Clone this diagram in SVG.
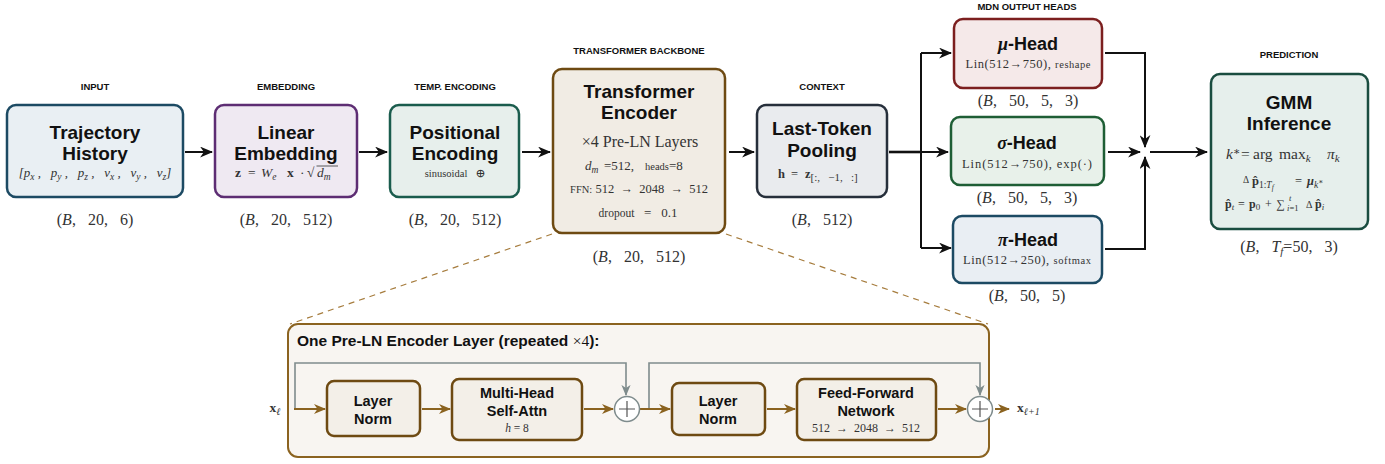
<svg xmlns="http://www.w3.org/2000/svg" width="1385" height="464" viewBox="0 0 1385 464">
<style>
.sec{font-family:"Liberation Sans",Arial,sans-serif;font-weight:bold;font-size:9.5px;fill:#111;text-anchor:middle}
.t{font-family:"Liberation Sans",Arial,sans-serif;font-weight:bold;font-size:19px;fill:#111;text-anchor:middle}
.th{font-family:"Liberation Sans",Arial,sans-serif;font-weight:bold;font-size:18px;fill:#111;text-anchor:middle}
.ti{font-family:"Liberation Sans",Arial,sans-serif;font-weight:bold;font-size:14.5px;fill:#111;text-anchor:middle}
.m{font-family:"Liberation Serif","DejaVu Serif",serif;fill:#333;text-anchor:middle}
.ms{font-family:"Liberation Serif","DejaVu Serif",serif;fill:#333;text-anchor:start}
.shape{font-family:"Liberation Serif","DejaVu Serif",serif;font-size:16px;fill:#333;text-anchor:middle}
.i{font-style:italic}
.b{font-weight:bold}
.box{stroke-width:2.5}
.a{stroke:#111;stroke-width:2;fill:none}
.ab{stroke:#8b6320;stroke-width:2;fill:none}
.ag{stroke:#7f8c8d;stroke-width:1.6;fill:none}
</style>
<defs>
<marker id="ah" viewBox="0 0 12 10" refX="11" refY="5" markerWidth="13" markerHeight="11" orient="auto" markerUnits="userSpaceOnUse"><path d="M0,0 L12,5 L0,10 L3.5,5z" fill="#111"/></marker>
<marker id="abr" viewBox="0 0 12 10" refX="11" refY="5" markerWidth="12" markerHeight="10" orient="auto" markerUnits="userSpaceOnUse"><path d="M0,0 L12,5 L0,10 L3.5,5z" fill="#8b6320"/></marker>
<marker id="agr" viewBox="0 0 12 10" refX="11" refY="5" markerWidth="11" markerHeight="10" orient="auto" markerUnits="userSpaceOnUse"><path d="M0,0 L12,5 L0,10 L3.5,5z" fill="#7f8c8d"/></marker>
</defs>
<rect width="1385" height="464" fill="#fff"/>

<g id="connectors">
<path class="a" d="M185,152 H212" marker-end="url(#ah)"/>
<path class="a" d="M359,152 H387" marker-end="url(#ah)"/>
<path class="a" d="M522,152 H550" marker-end="url(#ah)"/>
<path class="a" d="M729,152 H754" marker-end="url(#ah)"/>
<path class="a" d="M889,152 H921" style="stroke-width:2.6"/>
<path class="a" d="M921,53 V248"/>
<path class="a" d="M921,53 H951" marker-end="url(#ah)"/>
<path class="a" d="M921,152 H948" marker-end="url(#ah)"/>
<path class="a" d="M921,248 H951" marker-end="url(#ah)"/>
<path class="a" d="M1105,53 H1145 V147" marker-end="url(#ah)"/>
<path class="a" d="M1108,152 H1140" marker-end="url(#ah)"/>
<path class="a" d="M1105,249 H1145 V157" marker-end="url(#ah)"/>
<path class="a" d="M1150,152 H1207" marker-end="url(#ah)"/>
<path d="M552,234 L290,324 M726,234 L988,324" stroke="#a67c3d" stroke-width="1.2" stroke-dasharray="6,5" fill="none"/>
</g>

<g id="input">
<text class="sec" x="95" y="90">INPUT</text>
<rect class="box" x="7" y="105" width="176" height="92" rx="9" fill="#e9eff3" stroke="#1c4a63"/>
<text class="t" x="95" y="139">Trajectory</text>
<text class="t" x="95" y="160">History</text>
<text class="m i" x="95" y="177" font-size="13">[p<tspan font-size="9.5" baseline-shift="-25%">x</tspan> , &#8194;p<tspan font-size="9.5" baseline-shift="-25%">y</tspan> , &#8194;p<tspan font-size="9.5" baseline-shift="-25%">z</tspan> , &#8194;v<tspan font-size="9.5" baseline-shift="-25%">x</tspan> , &#8194;v<tspan font-size="9.5" baseline-shift="-25%">y</tspan> , &#8194;v<tspan font-size="9.5" baseline-shift="-25%">z</tspan>]</text>
<text class="shape" x="95" y="225">(<tspan class="i">B</tspan>, &#8194;20, &#8194;6)</text>
</g>

<g id="embedding">
<text class="sec" x="286" y="90">EMBEDDING</text>
<rect class="box" x="215" y="105" width="142" height="92" rx="9" fill="#efe9f2" stroke="#5d2d73"/>
<text class="t" x="286" y="139">Linear</text>
<text class="t" x="286" y="160">Embedding</text>
<text class="ms" y="177" font-size="13.5"><tspan class="b" x="235">z</tspan><tspan x="248">=</tspan><tspan class="i" x="261">W</tspan><tspan class="i" font-size="9.5" baseline-shift="-25%">e</tspan><tspan class="b" x="287">x</tspan><tspan x="300">·</tspan><tspan x="307">√</tspan><tspan class="i" x="317">d</tspan><tspan class="i" font-size="9.5" baseline-shift="-25%">m</tspan></text>
<path d="M316.5,166 H338" stroke="#333" stroke-width="0.8"/>
<text class="shape" x="286" y="225">(<tspan class="i">B</tspan>, &#8194;20, &#8194;512)</text>
</g>

<g id="posenc">
<text class="sec" x="455" y="90">TEMP. ENCODING</text>
<rect class="box" x="390" y="105" width="129" height="92" rx="9" fill="#e7efec" stroke="#1a5c4d"/>
<text class="t" x="455" y="139">Positional</text>
<text class="t" x="455" y="160">Encoding</text>
<text class="m" x="455" y="177" font-size="10.5">sinusoidal &#8194;<tspan font-size="12">⊕</tspan></text>
<text class="shape" x="455" y="225">(<tspan class="i">B</tspan>, &#8194;20, &#8194;512)</text>
</g>

<g id="transformer">
<text class="sec" x="639" y="54">TRANSFORMER BACKBONE</text>
<rect class="box" x="553" y="69" width="172" height="164" rx="9" fill="#f1ece4" stroke="#6e4a12"/>
<text class="t" x="639" y="98">Transformer</text>
<text class="t" x="639" y="119">Encoder</text>
<text class="m" x="640" y="147" font-size="16">×4 Pre-LN Layers</text>
<text class="ms" y="170" font-size="13"><tspan class="i" x="585">d</tspan><tspan class="i" font-size="9.5" baseline-shift="-25%">m</tspan><tspan x="604">=512,</tspan><tspan x="645" font-size="10.5">heads</tspan><tspan>=8</tspan></text>
<text class="m" x="639" y="193" font-size="12.5"><tspan font-size="10.5">FFN:</tspan> 512&#8194;→&#8194;2048&#8194;→&#8194;512</text>
<text class="m" x="638" y="217" font-size="13"><tspan font-size="11.5">dropout</tspan> &#8194;= &#8194;0.1</text>
<text class="shape" x="639" y="262">(<tspan class="i">B</tspan>, &#8194;20, &#8194;512)</text>
</g>

<g id="context">
<text class="sec" x="822" y="90">CONTEXT</text>
<rect class="box" x="757" y="105" width="130" height="92" rx="9" fill="#e9ebee" stroke="#262f3b"/>
<text class="t" x="822" y="135">Last-Token</text>
<text class="t" x="822" y="157">Pooling</text>
<text class="ms" y="178" font-size="12.5"><tspan class="b" x="778">h</tspan><tspan x="791">=</tspan><tspan class="b" x="805">z</tspan><tspan font-size="11" baseline-shift="-30%">[:, &#8194;−1, &#8194;:]</tspan></text>
<text class="shape" x="822" y="225">(<tspan class="i">B</tspan>, &#8194;512)</text>
</g>

<g id="mu-head">
<text class="sec" x="1027" y="10">MDN OUTPUT HEADS</text>
<rect class="box" x="954" y="19" width="148" height="69" rx="9" fill="#f5e9e9" stroke="#7c1f1f"/>
<text class="th" x="1028" y="50"><tspan font-family="Liberation Serif,serif" font-style="italic">μ</tspan>-Head</text>
<text class="m" x="1028" y="68" font-size="12.5" textLength="125" lengthAdjust="spacing">Lin(512→750), <tspan font-size="10.5">reshape</tspan></text>
<text class="shape" x="1028" y="106">(<tspan class="i">B</tspan>, &#8194;50, &#8194;5, &#8194;3)</text>
</g>

<g id="sigma-head">
<rect class="box" x="951" y="117" width="153" height="68" rx="9" fill="#e8f1ea" stroke="#1e5e35"/>
<text class="th" x="1027" y="149"><tspan font-family="Liberation Serif,serif" font-style="italic">σ</tspan>-Head</text>
<text class="m" x="1027" y="168" font-size="12.5" textLength="130" lengthAdjust="spacing">Lin(512→750), exp(·)</text>
<text class="shape" x="1027" y="203">(<tspan class="i">B</tspan>, &#8194;50, &#8194;5, &#8194;3)</text>
</g>

<g id="pi-head">
<rect class="box" x="953" y="216" width="149" height="67" rx="9" fill="#e9eef3" stroke="#1c4a63"/>
<text class="th" x="1028" y="246"><tspan font-family="Liberation Serif,serif" font-style="italic">π</tspan>-Head</text>
<text class="m" x="1027" y="264" font-size="12.5" textLength="128" lengthAdjust="spacing">Lin(512→250), <tspan font-size="10.5">softmax</tspan></text>
<text class="shape" x="1027" y="301">(<tspan class="i">B</tspan>, &#8194;50, &#8194;5)</text>
</g>

<g id="gmm">
<text class="sec" x="1289" y="58">PREDICTION</text>
<rect class="box" x="1211" y="74" width="157" height="155" rx="9" fill="#e6efec" stroke="#1a4d40"/>
<text class="t" x="1289" y="109" font-size="20">GMM</text>
<text class="t" x="1289" y="130" font-size="20">Inference</text>
<text class="ms" y="159" font-size="15.5"><tspan class="i" x="1226">k</tspan><tspan font-size="11" baseline-shift="35%">∗</tspan><tspan x="1241">=</tspan><tspan x="1253">arg</tspan><tspan x="1279">max</tspan><tspan class="i" font-size="11" baseline-shift="-25%">k</tspan><tspan class="i" x="1327">π</tspan><tspan class="i" font-size="11" baseline-shift="-25%">k</tspan></text>
<text class="ms" y="185" font-size="12.5"><tspan x="1243" font-size="9.5" baseline-shift="25%">Δ</tspan><tspan class="b" x="1252">p̂</tspan><tspan font-size="9.5" baseline-shift="-30%">1:<tspan class="i">T</tspan><tspan font-size="7.5" class="i" baseline-shift="-20%">f</tspan></tspan><tspan x="1295">=</tspan><tspan class="b i" x="1307">μ</tspan><tspan class="i" font-size="9.5" baseline-shift="-30%">k</tspan><tspan font-size="7.5" baseline-shift="10%">∗</tspan></text>
<text class="ms" y="208" font-size="12"><tspan class="b" x="1225">p̂</tspan><tspan class="i" font-size="9" baseline-shift="-25%">t</tspan><tspan x="1238">=</tspan><tspan class="b" x="1249">p</tspan><tspan font-size="9" baseline-shift="-25%">0</tspan><tspan x="1265">+</tspan><tspan x="1276">∑</tspan><tspan font-size="8.5" x="1287" dy="2.5"><tspan class="i">i</tspan>=1</tspan><tspan font-size="8.5" class="i" x="1289" dy="-9.5">t</tspan><tspan x="1306" dy="7" font-size="10">Δ</tspan><tspan class="b" x="1315">p̂</tspan><tspan class="i" font-size="9" baseline-shift="-25%">i</tspan></text>
<text class="shape" x="1289" y="252">(<tspan class="i">B</tspan>, &#8194;<tspan class="i">T</tspan><tspan class="i" font-size="11" baseline-shift="-25%">f</tspan>=50, &#8194;3)</text>
</g>

<g id="encoder-layer">
<rect x="288" y="324" width="701" height="133" rx="10" fill="#f8f5f1" stroke="#8b6320" stroke-width="2"/>
<text x="297" y="346" font-family="Liberation Sans,Arial,sans-serif" font-weight="bold" font-size="15.5" fill="#111">One Pre-LN Encoder Layer (repeated <tspan font-family="Liberation Serif,serif" font-weight="normal">×4</tspan>):</text>
<text class="m" x="275" y="412" font-size="13.5"><tspan class="b">x</tspan><tspan class="i" font-size="10" baseline-shift="-25%">ℓ</tspan></text>
<text class="ms" x="1017" y="412" font-size="13.5"><tspan class="b">x</tspan><tspan class="i" font-size="10" baseline-shift="-25%">ℓ+1</tspan></text>
</g>

<g id="layer-connectors">
<path class="ag" d="M295,409 V363 H626 V395" marker-end="url(#agr)"/>
<path class="ag" d="M649,409 V363 H980 V395" marker-end="url(#agr)"/>
<path class="ab" d="M294,409 H325" marker-end="url(#abr)"/>
<path class="ab" d="M422,409 H450" marker-end="url(#abr)"/>
<path class="ab" d="M584,409 H613" marker-end="url(#abr)"/>
<path class="ab" d="M640,409 H670" marker-end="url(#abr)"/>
<path class="ab" d="M767,409 H795" marker-end="url(#abr)"/>
<path class="ab" d="M938,409 H966" marker-end="url(#abr)"/>
<path class="ab" d="M995,409 H1009" marker-end="url(#abr)"/>
</g>

<g id="layernorm1">
<rect x="327" y="381" width="93" height="55" rx="7" fill="#f3efe8" stroke="#6e4a12" stroke-width="2.5"/>
<text class="ti" x="373" y="406">Layer</text>
<text class="ti" x="373" y="424">Norm</text>
</g>
<g id="mhsa">
<rect x="452" y="379" width="130" height="61" rx="7" fill="#f3efe8" stroke="#6e4a12" stroke-width="2.5"/>
<text class="ti" x="517" y="398">Multi-Head</text>
<text class="ti" x="517" y="416">Self-Attn</text>
<text class="m" x="517" y="432" font-size="11.5"><tspan class="i">h</tspan> = 8</text>
</g>
<g id="add1">
<circle cx="627" cy="409" r="12.5" fill="#fff" stroke="#7f8c8d" stroke-width="1.5"/>
<path d="M619,409 H635 M627,401 V417" stroke="#555" stroke-width="1.2"/>
</g>
<g id="layernorm2">
<rect x="672" y="383" width="93" height="52" rx="7" fill="#f3efe8" stroke="#6e4a12" stroke-width="2.5"/>
<text class="ti" x="718" y="406">Layer</text>
<text class="ti" x="718" y="424">Norm</text>
</g>
<g id="ffn">
<rect x="797" y="379" width="139" height="61" rx="7" fill="#f3efe8" stroke="#6e4a12" stroke-width="2.5"/>
<text class="ti" x="866" y="398">Feed-Forward</text>
<text class="ti" x="866" y="416">Network</text>
<text class="m" x="866" y="432" font-size="12">512&#8194;→&#8194;2048&#8194;→&#8194;512</text>
</g>
<g id="add2">
<circle cx="980" cy="409" r="12.5" fill="#fff" stroke="#7f8c8d" stroke-width="1.5"/>
<path d="M972,409 H988 M980,401 V417" stroke="#555" stroke-width="1.2"/>
</g>
</svg>
